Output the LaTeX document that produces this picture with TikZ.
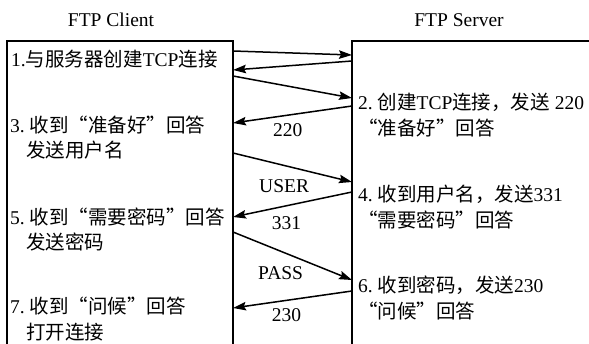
\documentclass[tikz,border=0pt]{standalone}
\usepackage{fontspec}
\setmainfont{Liberation Serif}
\newfontfamily\cjk{Noto Sans CJK SC}[Scale=1.0]
\usetikzlibrary{arrows.meta}
\newcommand\zh[1]{{\cjk #1}}
\tikzset{
  % Lifeline boxes of client and server.
  lifeline/.style={line width=1.8pt},
  % Messages between the two sides.
  msg/.style={
    -{Stealth[length=13pt, width=8.5pt, inset=2pt]},
    line width=1.5pt,
  },
  msg-label/.style={font=\fontsize{19.5}{22}\selectfont, inner sep=0pt},
  steptext/.style={
    anchor=west, align=left, inner sep=0pt,
    font=\fontsize{19.5}{25.5}\selectfont,
  },
  title/.style={font=\fontsize{19.5}{22}\selectfont, inner sep=0pt},
}

\begin{document}
\begin{tikzpicture}[x=1pt, y=-1pt]
  \useasboundingbox (0,0) rectangle (589,344);

  % Titles.
  \node[title] (client) at (111,20) {FTP Client};
  \node[title] (server) at (459,20) {FTP Server};

  % Boxes, open at the bottom.
  \draw[lifeline] (7,344) -- (7,41) -- (233,41) -- (233,344);
  \draw[lifeline] (352,344) -- (352,41) -- (589,41);

  % End points on the client side.
  \coordinate (c1) at (233,51);
  \coordinate (c2) at (233,70);
  \coordinate (c3) at (233,76);
  \coordinate (c4) at (233,123);
  \coordinate (c5) at (233,153);
  \coordinate (c6) at (233,217);
  \coordinate (c7) at (233,232);
  \coordinate (c8) at (233,308);
  % End points on the server side.
  \coordinate (s1) at (352,55);
  \coordinate (s2) at (352,61);
  \coordinate (s3) at (352,98);
  \coordinate (s4) at (352,106);
  \coordinate (s5) at (352,182);
  \coordinate (s6) at (352,192);
  \coordinate (s7) at (352,280);
  \coordinate (s8) at (352,291);

  % Messages.
  \draw[msg] (c1) -- (s1);
  \draw[msg] (s2) -- (c2);
  \draw[msg] (c3) -- (s3);
  \draw[msg] (s4) -- node[msg-label, pos=0.54, below=8pt] (m220) {220} (c4);
  \draw[msg] (c5) -- node[msg-label, pos=0.43, below=13pt] (muser) {USER} (s5);
  \draw[msg] (s6) -- node[msg-label, pos=0.55, below=10pt] (m331) {331} (c6);
  \draw[msg] (c7) -- node[msg-label, pos=0.40, below=15pt] (mpass) {PASS} (s7);
  \draw[msg] (s8) -- node[msg-label, pos=0.55, below=7pt] (m230) {230} (c8);

  % Client steps.
  \node[steptext] (step1) at (11,59) {1.\zh{与服务器创建}TCP\zh{连接}};
  \node[steptext] (step3) at (10,137.5)
    {3.\ \zh{收到“准备好”回答}\\\hspace*{16pt}\zh{发送用户名}};
  \node[steptext] (step5) at (10,229.5)
    {5.\ \zh{收到“需要密码”回答}\\\hspace*{16pt}\zh{发送密码}};
  \node[steptext] (step7) at (10,319)
    {7.\ \zh{收到“问候”回答}\\\hspace*{16pt}\zh{打开连接}};

  % Server steps.
  \node[steptext] (step2) at (358,115)
    {2.\ \zh{创建}TCP\zh{连接，发送} 220\\\zh{“准备好”回答}};
  \node[steptext] (step4) at (358,207)
    {4.\ \zh{收到用户名，发送}331\\\zh{“需要密码”回答}};
  \node[steptext] (step6) at (358,298)
    {6.\ \zh{收到密码，发送}230\\\zh{“问候”回答}};
\end{tikzpicture}
\end{document}
